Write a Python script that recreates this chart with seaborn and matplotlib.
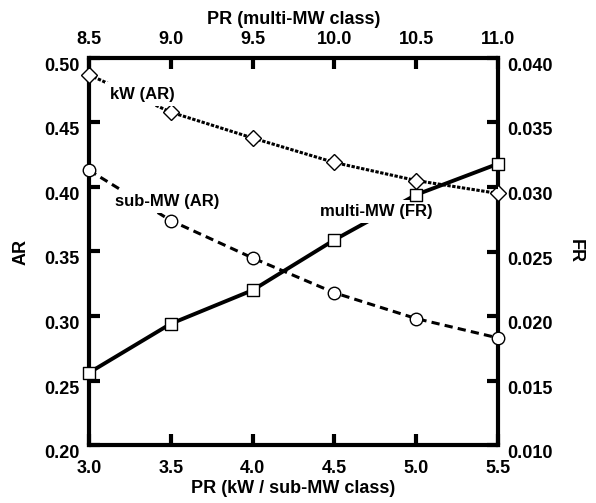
import matplotlib
matplotlib.use("Agg")
import matplotlib.pyplot as plt
import seaborn as sns
from matplotlib.ticker import FormatStrFormatter, MultipleLocator

# pressure ratio on the two x axes
prLow = [3.0, 3.5, 4.0, 4.5, 5.0, 5.5]
prHigh = [8.5, 9.0, 9.5, 10.0, 10.5, 11.0]

kwAR = [0.487, 0.458, 0.438, 0.419, 0.405, 0.395]
subMwAR = [0.413, 0.374, 0.345, 0.318, 0.298, 0.283]
multiMwFR = [0.0156, 0.0194, 0.0220, 0.0259, 0.0294, 0.0318]

sns.set_style("ticks")
plt.rcParams["font.family"] = ["Liberation Sans", "DejaVu Sans"]
plt.rcParams["font.weight"] = "bold"
plt.rcParams["axes.labelweight"] = "bold"
plt.rcParams["font.size"] = 13
for k in ["text.color", "axes.labelcolor", "xtick.color", "ytick.color", "axes.edgecolor"]:
    plt.rcParams[k] = "black"

fig = plt.figure(figsize=(5.96, 5.03), dpi=100)
ax = fig.add_axes([0.1493, 0.1153, 0.6863, 0.7694])
ax2 = ax.twinx()
ax3 = ax2.twiny()

markerKw = dict(markerfacecolor="white", markeredgecolor="black", markeredgewidth=1.0,
                clip_on=False, color="black")

sns.lineplot(x=prLow, y=kwAR, ax=ax, marker="D", markersize=8, lw=2.2,
             linestyle=(0, (1.1, 0.5)), zorder=3, **markerKw)
sns.lineplot(x=prLow, y=subMwAR, ax=ax, marker="o", markersize=9, lw=2.2,
             linestyle=(0, (2.7, 1.7)), zorder=3, **markerKw)
# multi-MW: line under the label box, squares above it
sns.lineplot(x=prHigh, y=multiMwFR, ax=ax3, lw=2.8, color="black", linestyle="-",
             zorder=3, clip_on=False)
sns.scatterplot(x=prHigh, y=multiMwFR, ax=ax3, marker="s", s=75, color="white",
                edgecolor="black", linewidth=1.0, zorder=6, clip_on=False)

ax.set_xlim(3.0, 5.5)
ax.set_ylim(0.20, 0.50)
ax2.set_ylim(0.010, 0.040)
ax3.set_xlim(8.5, 11.0)

ax.xaxis.set_major_locator(MultipleLocator(0.5))
ax.yaxis.set_major_locator(MultipleLocator(0.05))
ax2.yaxis.set_major_locator(MultipleLocator(0.005))
ax3.xaxis.set_major_locator(MultipleLocator(0.5))
ax.xaxis.set_major_formatter(FormatStrFormatter("%.1f"))
ax.yaxis.set_major_formatter(FormatStrFormatter("%.2f"))
ax2.yaxis.set_major_formatter(FormatStrFormatter("%.3f"))
ax3.xaxis.set_major_formatter(FormatStrFormatter("%.1f"))

for s in ax.spines.values():
    s.set_linewidth(3)
    s.set_color("black")
for a in (ax2, ax3):
    for s in a.spines.values():
        s.set_visible(False)
for a in (ax, ax2, ax3):
    a.tick_params(direction="in", length=8, width=3, labelsize=13, color="black")

ax.tick_params(axis="x", pad=11)
ax.tick_params(axis="y", pad=7)
ax2.tick_params(axis="y", pad=7)
ax3.tick_params(axis="x", pad=7)

ax.set_xlabel("PR (kW / sub-MW class)", fontsize=13, labelpad=2)
ax.set_ylabel("AR", fontsize=13, labelpad=10)
ax2.set_ylabel("FR", fontsize=13, rotation=270, labelpad=22)
ax3.set_xlabel("PR (multi-MW class)", fontsize=13, labelpad=5)
ax3.set_ylabel("")

# y tick labels sit a little below their ticks in the original
fig.canvas.draw()
for lbl in ax.get_yticklabels() + ax2.get_yticklabels():
    lbl.set_verticalalignment("top")

boxKw = dict(boxstyle="square,pad=0.25", fc="white", ec="none")
ax3.text(3.324, 0.472, "kW (AR)", transform=ax.transData, ha="center", va="center",
         fontsize=12, zorder=5, bbox=boxKw)
ax3.text(3.477, 0.389, "sub-MW (AR)", transform=ax.transData, ha="center", va="center",
         fontsize=12, zorder=5, bbox=boxKw)
ax3.text(4.754, 0.381, "multi-MW (FR)", transform=ax.transData, ha="center", va="center",
         fontsize=12, zorder=5, bbox=boxKw)

for a in (ax, ax2, ax3):
    leg = a.get_legend()
    if leg is not None:
        leg.remove()

fig.savefig("out.png", dpi=100)
